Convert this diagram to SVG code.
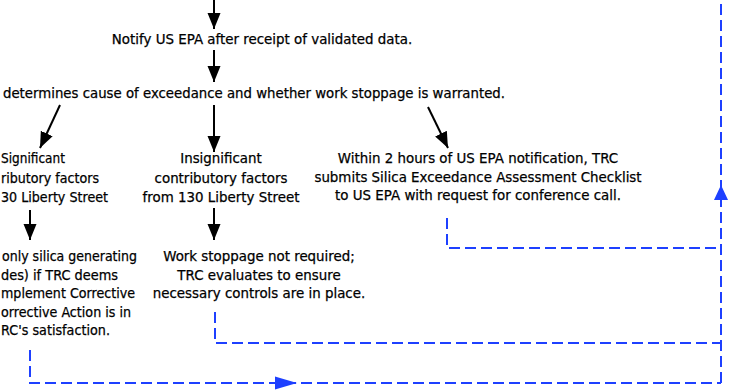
<svg xmlns="http://www.w3.org/2000/svg" width="730" height="392" viewBox="0 0 730 392">
  <style>
    text { font-family: "DejaVu Sans", Verdana, sans-serif; font-size: 13.4px; fill: #000; stroke: #000; stroke-width: 0.25; }
    .c { text-anchor: middle; }
    .e { text-anchor: end; }
    .k { stroke: #000; stroke-width: 2; fill: none; }
    .b { stroke: #1e40ff; stroke-width: 2; fill: none; stroke-dasharray: 11 5; }
  </style>
  <defs>
    <marker id="ah" markerUnits="userSpaceOnUse" markerWidth="18" markerHeight="14" refX="16" refY="6.5" orient="auto">
      <path d="M0,0 L16,6.5 L0,13 Z" fill="#000"/>
    </marker>
  </defs>
  <rect width="730" height="392" fill="#fff"/>

  <g id="connectors">
    <line class="k" x1="214" y1="0" x2="214" y2="29" marker-end="url(#ah)"/>
    <line class="k" x1="214" y1="50" x2="214" y2="82" marker-end="url(#ah)"/>
    <line class="k" x1="214" y1="105" x2="214" y2="152" marker-end="url(#ah)"/>
    <line class="k" x1="214" y1="208" x2="214" y2="240" marker-end="url(#ah)"/>
    <line class="k" x1="30" y1="210" x2="30" y2="240" marker-end="url(#ah)"/>
    <line class="k" x1="60" y1="105" x2="40" y2="148" marker-end="url(#ah)"/>
    <line class="k" x1="428" y1="107" x2="448" y2="148" marker-end="url(#ah)"/>

    <path class="b" d="M447,218 V248 H721"/>
    <path class="b" d="M215,312 V343 H721"/>
    <path class="b" d="M30,350 V383 H721"/>
    <path class="b" d="M721,383 V0"/>
    <polygon points="721,185 714,200 728,200" fill="#1e40ff"/>
    <polygon points="297,383 275,376.5 275,389.5" fill="#1e40ff"/>
  </g>

  <g id="n-notify">
    <text class="c" x="262" y="44">Notify US EPA after receipt of validated data.</text>
  </g>
  <g id="n-determine">
    <text x="3" y="98" textLength="502" lengthAdjust="spacingAndGlyphs">determines cause of exceedance and whether work stoppage is warranted.</text>
  </g>
  <g id="n-significant">
    <text x="1" y="163" textLength="64" lengthAdjust="spacingAndGlyphs">Significant</text>
    <text x="1" y="183" textLength="98" lengthAdjust="spacingAndGlyphs">ributory factors</text>
    <text x="1" y="202" textLength="107" lengthAdjust="spacingAndGlyphs">30 Liberty Street</text>
  </g>
  <g id="n-insignificant">
    <text class="c" x="221" y="163">Insignificant</text>
    <text class="c" x="221" y="183">contributory factors</text>
    <text class="c" x="221" y="202">from 130 Liberty Street</text>
  </g>
  <g id="n-within">
    <text class="c" x="478" y="163">Within 2 hours of US EPA notification, TRC</text>
    <text class="c" x="478" y="182">submits Silica Exceedance Assessment Checklist</text>
    <text class="c" x="478" y="200">to US EPA with request for conference call.</text>
  </g>
  <g id="n-stop">
    <text x="2" y="261" textLength="135" lengthAdjust="spacingAndGlyphs">only silica generating</text>
    <text x="1" y="280" textLength="117" lengthAdjust="spacingAndGlyphs">des) if TRC deems</text>
    <text x="1" y="298" textLength="134" lengthAdjust="spacingAndGlyphs">mplement Corrective</text>
    <text x="1" y="317" textLength="130" lengthAdjust="spacingAndGlyphs">orrective Action is in</text>
    <text x="1" y="335" textLength="109" lengthAdjust="spacingAndGlyphs">RC's satisfaction.</text>
  </g>
  <g id="n-work">
    <text class="c" x="259" y="261">Work stoppage not required;</text>
    <text class="c" x="259" y="280">TRC evaluates to ensure</text>
    <text class="c" x="259" y="298">necessary controls are in place.</text>
  </g>
</svg>
